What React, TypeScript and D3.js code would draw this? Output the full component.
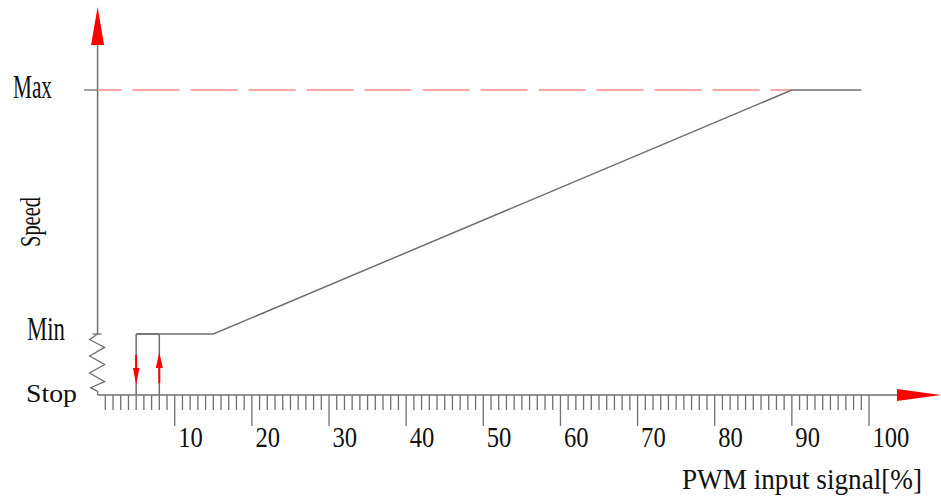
import React from "react";
import * as d3 from "d3";

const W = 941;
const H = 497;

// Data
const xTickValues = d3.range(1, 101); // minor ticks every 1%
const majorTickValues = [10, 20, 30, 40, 50, 60, 70, 80, 90, 100];
const levelNames = ["Stop", "Min", "Max"];
const levelValues = [0, 20, 100];
const curveX = [5, 15, 90, 99];
const curveY = [20, 20, 100, 100];
const hystOff = 5; // switching off (down arrow)
const hystOn = 8; // switching on (up arrow)
const axisLabelX = "PWM input signal[%]";
const axisLabelY = "Speed";

export default function App() {
  const x = d3.scaleLinear().domain([0, 100]).range([97.6, 869]);
  const y = d3.scaleLinear().domain([0, 100]).range([395, 90]);

  const gray = "#6f6f6f";
  const red = "#ff0000";
  const font = "'Liberation Serif', 'DejaVu Serif', serif";

  const x0 = x(0);
  const yStop = y(levelValues[0]);
  const yMin = y(levelValues[1]);
  const yMax = y(levelValues[2]);

  const line = d3
    .line<number>()
    .x((d, i) => x(curveX[i]))
    .y((d, i) => y(curveY[i]));

  // zigzag between Stop and Min
  const zz = d3.scaleLinear().domain([0, 1]).range([yMin, yStop]);
  const zigPts: [number, number][] = [
    [x0, zz(0)],
    [x0 - 8, zz(0.09)],
    [x0 + 7, zz(0.22)],
    [x0 - 8, zz(0.36)],
    [x0 + 7, zz(0.5)],
    [x0 - 8, zz(0.64)],
    [x0 + 7, zz(0.78)],
    [x0 - 7, zz(0.88)],
    [x0, zz(0.94)],
    [x0, zz(1)],
  ];
  const zig = d3.line()(zigPts) as string;

  const yArrowBase = 45;
  const yArrowTip = 7;
  const xArrowBase = 897;
  const xArrowTip = 941;

  const labelStyle: React.CSSProperties = { fontFamily: font, fill: "#111", fontWeight: 500 };

  return (
    <svg
      width={W}
      height={H}
      style={{ position: "absolute", left: 0, top: 0, background: "#fff" }}
    >
      {/* Y axis */}
      <line x1={x0} y1={yArrowBase} x2={x0} y2={yMin} stroke={gray} strokeWidth={1.5} />
      <path d={zig} fill="none" stroke={gray} strokeWidth={1.3} />
      <polygon
        points={`${x0 - 6.5},${yArrowBase} ${x0 + 6.5},${yArrowBase} ${x0},${yArrowTip}`}
        fill={red}
      />
      {/* level ticks */}
      <line x1={84} y1={yMax} x2={x0} y2={yMax} stroke={gray} strokeWidth={1.3} />
      <line x1={x0 - 5} y1={yMin} x2={x0 + 4} y2={yMin} stroke={gray} strokeWidth={1.3} />

      {/* Max dashed */}
      <line
        x1={x0}
        y1={yMax}
        x2={x(curveX[2])}
        y2={yMax}
        stroke="#ff8a8a"
        strokeWidth={1.6}
        strokeDasharray="47 11"
        strokeDashoffset={23}
      />

      {/* X axis */}
      <line x1={x0} y1={yStop} x2={xArrowBase} y2={yStop} stroke={gray} strokeWidth={1.5} />
      <polygon
        points={`${xArrowBase},${yStop - 6} ${xArrowBase},${yStop + 6} ${xArrowTip},${yStop}`}
        fill={red}
      />
      {xTickValues.map((v) => {
        const major = majorTickValues.includes(v);
        return (
          <line
            key={v}
            x1={x(v)}
            x2={x(v)}
            y1={yStop}
            y2={major ? 426 : 410}
            stroke={gray}
            strokeWidth={1.3}
          />
        );
      })}
      {majorTickValues.map((v) => (
        <text
          key={v}
          x={x(v) + 3.5}
          y={447}
          fontSize={30}
          textLength={String(v).length * 12.3}
          lengthAdjust="spacingAndGlyphs"
          style={labelStyle}
        >
          {v}
        </text>
      ))}

      {/* curve */}
      <path d={line(curveX) as string} fill="none" stroke={gray} strokeWidth={1.5} />
      {/* hysteresis verticals */}
      <line x1={x(hystOff)} x2={x(hystOff)} y1={yMin} y2={yStop} stroke={gray} strokeWidth={1.5} />
      <line x1={x(hystOn)} x2={x(hystOn)} y1={yMin} y2={yStop} stroke={gray} strokeWidth={1.5} />
      <line x1={x(hystOn)} x2={x(curveX[0])} y1={yMin} y2={yMin} stroke={gray} strokeWidth={1.5} />
      {/* red arrows */}
      <line x1={x(hystOff)} x2={x(hystOff)} y1={355} y2={370} stroke={red} strokeWidth={2} />
      <polygon
        points={`${x(hystOff) - 3.2},368 ${x(hystOff) + 3.2},368 ${x(hystOff)},385`}
        fill={red}
      />
      <line x1={x(hystOn)} x2={x(hystOn)} y1={366} y2={383} stroke={red} strokeWidth={2} />
      <polygon
        points={`${x(hystOn) - 3.5},368 ${x(hystOn) + 3.5},368 ${x(hystOn)},352`}
        fill={red}
      />

      {/* level labels */}
      <text x={13} y={98} fontSize={33} textLength={39} lengthAdjust="spacingAndGlyphs" style={labelStyle}>
        {levelNames[2]}
      </text>
      <text x={27} y={340} fontSize={33} textLength={38} lengthAdjust="spacingAndGlyphs" style={labelStyle}>
        {levelNames[1]}
      </text>
      <text x={26} y={402} fontSize={26} textLength={51} lengthAdjust="spacingAndGlyphs" style={labelStyle}>
        {levelNames[0]}
      </text>

      {/* axis titles */}
      <text
        transform="translate(40,247) rotate(-90)"
        x={0}
        y={0}
        fontSize={29}
        textLength={50}
        lengthAdjust="spacingAndGlyphs"
        style={labelStyle}
      >
        {axisLabelY}
      </text>
      <text
        x={682}
        y={489}
        fontSize={29}
        textLength={240}
        lengthAdjust="spacingAndGlyphs"
        style={labelStyle}
      >
        {axisLabelX}
      </text>
    </svg>
  );
}
